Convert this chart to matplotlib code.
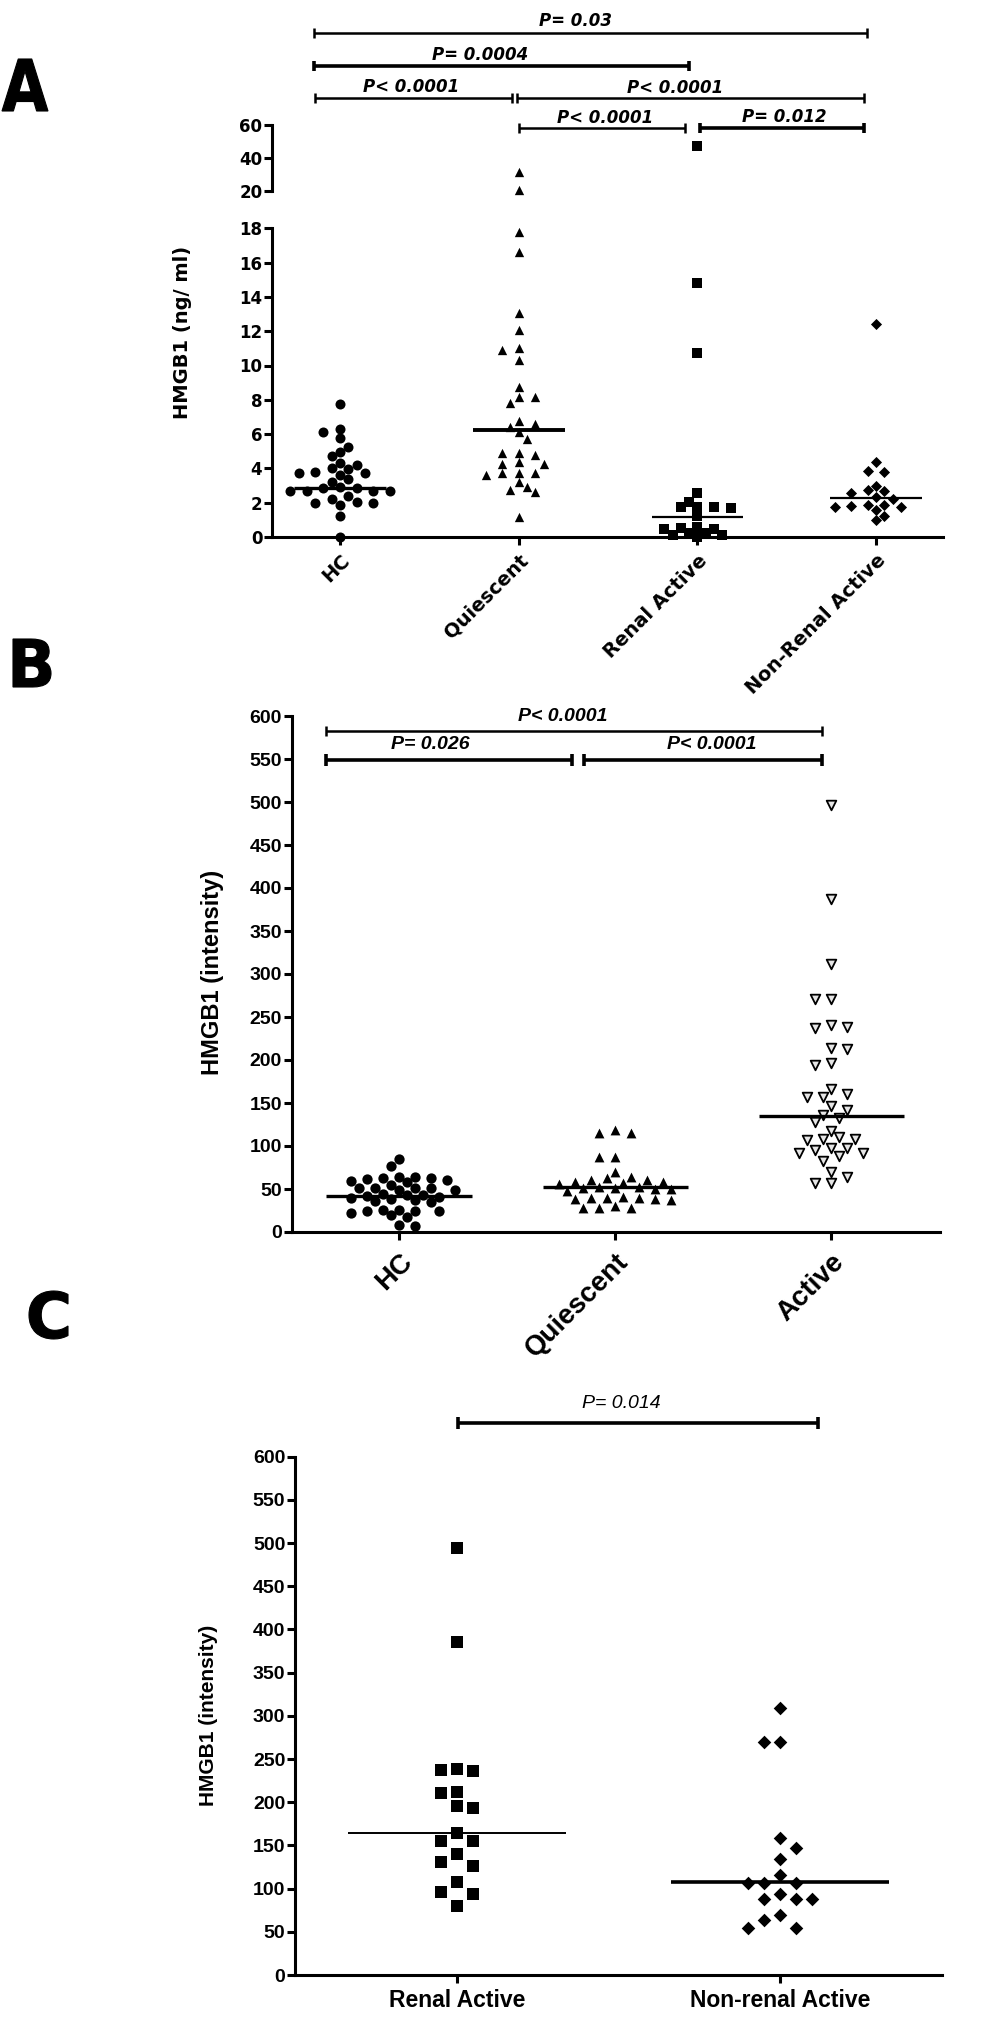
import numpy as np
import matplotlib
matplotlib.use('Agg')
import matplotlib.pyplot as plt
from matplotlib.transforms import blended_transform_factory, Affine2D, IdentityTransform
from matplotlib.textpath import TextPath
from matplotlib.patches import PathPatch
from matplotlib.font_manager import FontProperties

W, H, DPI = 1004, 2023, 100

# ---------------- data ----------------
# Panel A : serum HMGB1 (ng/ml)
a_categories = ['HC', 'Quiescent', 'Renal Active', 'Non-Renal Active']
a_hc = [7.74, 6.28, 6.14, 5.75, 5.27, 4.98, 4.72, 4.33, 4.20, 4.00, 3.95, 3.75,
        3.61, 3.75, 3.80, 3.36, 3.23, 2.84, 2.84, 2.90, 2.70, 2.68, 2.68, 2.70,
        2.39, 2.05, 2.00, 2.00, 2.20, 1.85, 1.22, 0.0]
a_quiescent = [31.6, 20.3, 17.8, 16.64, 13.04, 12.07, 11.0, 10.9, 10.32, 8.73,
               8.18, 8.18, 7.8, 6.78, 6.43, 6.59, 6.14, 5.7, 4.92, 4.78, 4.92,
               4.26, 4.39, 4.26, 3.71, 3.62, 3.71, 3.75, 3.22, 2.74, 2.64, 2.9, 1.18]
a_renal = [47.2, 14.8, 10.7, 2.55, 1.77, 1.67, 2.06, 1.77, 1.77, 1.22, 0.6, 0.45,
           0.45, 0.5, 0.21, 0.12, 0.0, 0.12, 0.21]
a_nonrenal = [12.42, 4.39, 3.87, 3.77, 2.97, 2.74, 2.58, 2.70, 2.2, 2.31, 1.87,
              1.73, 1.73, 1.81, 1.87, 1.6, 1.22, 0.99]
a_medians = [2.85, 6.24, 1.18, 2.26]
a_low_ticks = [0, 2, 4, 6, 8, 10, 12, 14, 16, 18]
a_high_ticks = [20, 40, 60]
a_pvalues = ['P= 0.03', 'P= 0.0004', 'P< 0.0001', 'P< 0.0001', 'P< 0.0001', 'P= 0.012']

# Panel B : HMGB1 intensity
b_categories = ['HC', 'Quiescent', 'Active']
b_hc = [85, 77, 64, 64, 63, 63, 62, 60, 59, 58, 55, 51, 51, 51, 51, 49, 49, 44,
        43, 43, 42, 41, 40, 38, 37, 36, 35, 26, 26, 25, 25, 24, 22, 20, 17, 8, 7]
b_quiescent = [118.6, 115.5, 115.5, 87.6, 87.6, 70.2, 64.3, 62.4, 60.5, 60.5,
               58.5, 58.5, 57, 55.8, 52, 52, 50.8, 50.8, 50, 50, 48, 41, 40, 40,
               39, 38, 38, 37, 30, 28, 28, 27.5]
b_active = [496.5, 386.8, 311.6, 270.6, 270.6, 240.7, 236.8, 238.7, 213.6, 212.4,
            194.2, 196.9, 165.9, 157.4, 157.4, 160.5, 146.5, 141.9, 132.2, 128.3,
            136, 117.8, 107.8, 107, 107.8, 110.8, 97.3, 91.5, 88.4, 82.9, 91.5,
            95.3, 97.3, 64.3, 56.6, 56.6, 70.2]
b_medians = [42, 52, 135]
b_ticks = [0, 50, 100, 150, 200, 250, 300, 350, 400, 450, 500, 550, 600]
b_pvalues = ['P< 0.0001', 'P= 0.026', 'P< 0.0001']

# Panel C : HMGB1 intensity, renal vs non-renal
c_categories = ['Renal Active', 'Non-renal Active']
c_renal = [494.5, 385, 238.8, 236, 237.2, 212.2, 210.5, 193, 195.6, 155.7, 155.7,
           164.1, 140.2, 130.6, 126.3, 108.1, 95.8, 94.3, 79.9]
c_nonrenal = [309.3, 269.2, 269.2, 158.8, 146.5, 134.3, 115.6, 106.5, 106.5,
              106.5, 93.2, 87.9, 87.9, 87.9, 69.2, 63.9, 54.9, 54.9]
c_medians = [164.1, 107.6]
c_ticks = [0, 50, 100, 150, 200, 250, 300, 350, 400, 450, 500, 550, 600]
c_pvalue = 'P= 0.014'

# ---------------- helpers ----------------
FA = ['DejaVu Sans']
FB = ['Liberation Sans', 'DejaVu Sans']

fig = plt.figure(figsize=(W / DPI, H / DPI), dpi=DPI)


def add_axes_px(left, top, right, bottom):
    ax = fig.add_axes([left / W, 1 - bottom / H, (right - left) / W, (bottom - top) / H])
    ax.patch.set_visible(False)
    return ax


def style_axes(ax, lw=2.2):
    for s in ['top', 'right']:
        ax.spines[s].set_visible(False)
    for s in ['left', 'bottom']:
        ax.spines[s].set_linewidth(lw)
    ax.tick_params(width=lw, length=6, direction='out', pad=1)


def swarm_offsets(ax, values, step_px, min_px):
    vals = np.asarray(values, float)
    ypx = ax.transData.transform(np.column_stack([np.zeros_like(vals), vals]))[:, 1]
    xppu = ax.transData.transform((1, 0))[0] - ax.transData.transform((0, 0))[0]
    order = np.argsort(-vals, kind='stable')
    placed = []
    offs = np.zeros(len(vals))
    nl = nr = 0
    for i in order:
        y = ypx[i]
        k = 0
        chosen = None
        while chosen is None:
            if k == 0:
                cands = [0]
            else:
                cands = [-k, k] if nl <= nr else [k, -k]
            for c in cands:
                x = c * step_px
                if all((x - px) ** 2 + (y - py) ** 2 >= min_px ** 2 for px, py in placed):
                    chosen = x
                    break
            k += 1
        placed.append((chosen, y))
        if chosen < 0:
            nl += 1
        elif chosen > 0:
            nr += 1
        offs[i] = chosen / xppu
    return offs


def bracket(ax, x0, x1, ypx, lw=2.0, cap=5):
    tr = blended_transform_factory(ax.transData, fig.transFigure)
    yf = 1 - ypx / H
    c = cap / H
    kw = dict(transform=tr, color='k', lw=lw, clip_on=False, solid_capstyle='butt', zorder=5)
    ax.plot([x0, x1], [yf, yf], **kw)
    ax.plot([x0, x0], [yf - c, yf + c], **kw)
    ax.plot([x1, x1], [yf - c, yf + c], **kw)


def ptext(ax, x, ypx, text, fam, fs, weight='bold'):
    tr = blended_transform_factory(ax.transData, fig.transFigure)
    ax.text(x, 1 - ypx / H, text, transform=tr, ha='center', va='center',
            fontsize=fs, fontweight=weight, fontstyle='italic', family=fam)


def median_line(ax, i, m, half, lw):
    ax.plot([i - half, i + half], [m, m], color='k', lw=lw, zorder=4,
            solid_capstyle='butt', clip_on=False)


def panel_letter(ch, left, top, right, bottom):
    fp = FontProperties(family='DejaVu Sans', weight='bold')
    tp = TextPath((0, 0), ch, size=100, prop=fp)
    bb = tp.get_extents()
    sx = (right - left) / bb.width
    sy = (bottom - top) / bb.height
    tr = (Affine2D().translate(-bb.x0, -bb.y0).scale(sx, sy)
          .translate(left, H - bottom))
    patch = PathPatch(tr.transform_path(tp), facecolor='k', edgecolor='k',
                      lw=0.8, transform=IdentityTransform())
    fig.add_artist(patch)

# ---------------- Panel A ----------------
axA = add_axes_px(272, 228.3, 943, 537)
axAt = add_axes_px(272, 125, 943, 190.7)
xlimA = (-0.3805, 3.374)
for ax in (axA, axAt):
    ax.set_xlim(*xlimA)
    style_axes(ax)
axA.set_ylim(0, 18)
axAt.set_ylim(20, 60)
axAt.spines['bottom'].set_visible(False)
axAt.set_xticks([])
axA.set_yticks(a_low_ticks)
axA.set_yticklabels([str(t) for t in a_low_ticks], fontsize=12, fontweight='bold', family=FA)
axAt.set_yticks(a_high_ticks)
axAt.set_yticklabels([str(t) for t in a_high_ticks], fontsize=12, fontweight='bold', family=FA)
axA.set_xticks(range(len(a_categories)))
axA.set_xticklabels(a_categories, rotation=45, ha='right', va='top',
                    rotation_mode='anchor', fontsize=14, fontweight='bold', family=FA)
axA.tick_params(axis='x', pad=4)

a_groups = [a_hc, a_quiescent, a_renal, a_nonrenal]
a_markers = [('o', 52), ('^', 45), ('s', 52), ('D', 32)]
a_line_w = [2.4, 2.8, 1.6, 1.6]
for i, (vals, (mk, sz)) in enumerate(zip(a_groups, a_markers)):
    v = np.asarray(vals, float)
    low = v[v <= 18]
    high = v[v >= 20]
    off = swarm_offsets(axA, low, 8.3, 9)
    axA.scatter(i + off, low, marker=mk, s=sz, color='k', linewidths=0,
                clip_on=False, zorder=3)
    if len(high):
        axAt.scatter(np.full(len(high), i), high, marker=mk, s=sz, color='k',
                     linewidths=0, clip_on=False, zorder=3)
    median_line(axA, i, a_medians[i], 0.257, a_line_w[i])

# brackets panel A (x in category units, y in figure pixels)
a_brackets = [(-0.145, 2.95, 33.4, 1.8), (-0.145, 1.953, 65.7, 2.6),
              (-0.14, 0.962, 97.6, 1.8), (0.99, 2.93, 97.6, 1.8),
              (1.0, 1.93, 128.3, 1.8), (2.015, 2.93, 128.3, 2.6)]
a_text_pos = [(1.315, 21.5), (0.783, 54.6), (0.40, 87.2), (1.875, 88.0),
              (1.483, 117.7), (2.485, 116.7)]
for (x0, x1, yp, lw), (tx, ty), t in zip(a_brackets, a_text_pos, a_pvalues):
    bracket(axA, x0, x1, yp, lw=lw)
    ptext(axA, tx, ty, t, FA, 12)

fig.text(183 / W, 1 - 332 / H, 'HMGB1 (ng/ ml)', rotation=90, ha='center',
         va='center', fontsize=14, fontweight='bold', family=FA)
panel_letter('A', 2, 59, 48, 111)

# ---------------- Panel B ----------------
axB = add_axes_px(291.7, 716, 940, 1232)
style_axes(axB)
axB.set_xlim(-0.497, 2.504)
axB.set_ylim(0, 600)
axB.set_yticks(b_ticks)
axB.set_yticklabels([str(t) for t in b_ticks], fontsize=14, fontweight='bold', family=FB)
axB.set_xticks(range(len(b_categories)))
axB.set_xticklabels(b_categories, rotation=45, ha='right', va='top',
                    rotation_mode='anchor', fontsize=20, fontweight='bold', family=FB)
axB.tick_params(axis='x', pad=6)

b_groups = [b_hc, b_quiescent, b_active]
b_markers = [('o', 55, 'k', 'k', 0), ('^', 50, 'k', 'k', 0), ('v', 48, '#e6e6e6', 'k', 1.3)]
for i, (vals, (mk, sz, fc, ec, lw)) in enumerate(zip(b_groups, b_markers)):
    off = swarm_offsets(axB, vals, 8, 9.5)
    axB.scatter(i + off, vals, marker=mk, s=sz, facecolors=fc, edgecolors=ec,
                linewidths=lw, clip_on=False, zorder=3)
    median_line(axB, i, b_medians[i], 0.336, 2.4)

bracket(axB, -0.336, 1.957, 730.7, lw=1.8)
bracket(axB, -0.336, 0.80, 760, lw=2.6, cap=6)
bracket(axB, 0.856, 1.96, 760, lw=2.6, cap=6)
ptext(axB, 0.759, 717, b_pvalues[0], FB, 14)
ptext(axB, 0.144, 745, b_pvalues[1], FB, 14)
ptext(axB, 1.449, 745, b_pvalues[2], FB, 14)

fig.text(213 / W, 1 - 972 / H, 'HMGB1 (intensity)', rotation=90, ha='center',
         va='center', fontsize=17, fontweight='bold', family=FB)
panel_letter('B', 13, 639, 51, 687)

# ---------------- Panel C ----------------
axC = add_axes_px(295, 1456.7, 942, 1975)
style_axes(axC)
axC.set_xlim(-0.5015, 1.5016)
axC.set_ylim(0, 600)
axC.set_yticks(c_ticks)
axC.set_yticklabels([str(t) for t in c_ticks], fontsize=14, fontweight='bold', family=FB)
axC.set_xticks(range(len(c_categories)))
axC.set_xticklabels(c_categories, fontsize=16.5, fontweight='bold', family=FB)
axC.tick_params(axis='x', pad=4)

c_groups = [c_renal, c_nonrenal]
c_markers = [('s', 72), ('D', 48)]
c_line_w = [1.4, 2.6]
for i, (vals, (mk, sz)) in enumerate(zip(c_groups, c_markers)):
    off = swarm_offsets(axC, vals, 16, 14)
    axC.scatter(i + off, vals, marker=mk, s=sz, color='k', linewidths=0,
                clip_on=False, zorder=3)
    median_line(axC, i, c_medians[i], 0.338, c_line_w[i])

bracket(axC, 0.003, 1.118, 1422.7, lw=2.6, cap=6)
ptext(axC, 0.508, 1403, c_pvalue, FB, 14, weight='normal')

fig.text(209 / W, 1 - 1715 / H, 'HMGB1 (intensity)', rotation=90, ha='center',
         va='center', fontsize=15, fontweight='bold', family=FB)
panel_letter('C', 29, 1291, 68, 1339)

fig.savefig('out.png', dpi=DPI, facecolor='white')
